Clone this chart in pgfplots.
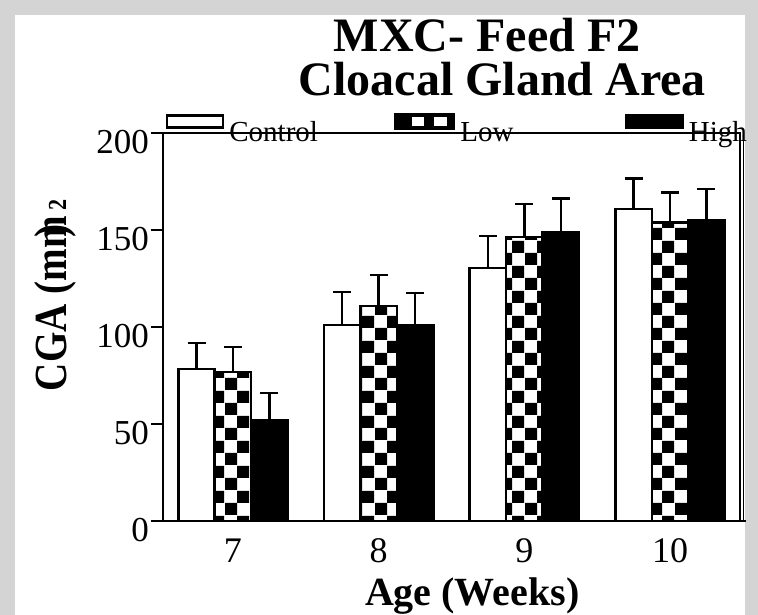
\documentclass[border=0pt]{standalone}
\usepackage{fontspec}
\setmainfont{Liberation Serif}
\newfontfamily\condserif{Liberation Serif}[FakeStretch=0.85]
\usepackage{pgfplots}
\pgfplotsset{compat=1.18}
\usepackage{pgfplotstable}
\usetikzlibrary{patterns}
\pgfdeclarepatternformonly{bigcheck}{\pgfpointorigin}{\pgfqpoint{25pt}{25pt}}{\pgfqpoint{25pt}{25pt}}{%
  \pgfpathrectangle{\pgfpointorigin}{\pgfqpoint{12.5pt}{12.5pt}}%
  \pgfpathrectangle{\pgfqpoint{12.5pt}{12.5pt}}{\pgfqpoint{12.5pt}{12.5pt}}%
  \pgfusepath{fill}}

\pgfplotstableread{
x c ce l le h he
0 78.4 13.4 76.8 12.9 52.0 14.0
1 101.0 17.0 110.8 16.0 100.7 16.8
2 130.4 16.5 146.5 16.8 149.0 17.2
3 160.8 15.8 153.8 15.6 155.0 16.2
}\cgadata

\begin{document}
\begin{tikzpicture}
\useasboundingbox (0,0) rectangle (758pt,615pt);
\fill[black!17] (0,0) rectangle (758pt,615pt);
\fill[white] (15pt,0) rectangle (745pt,600pt);
\begin{axis}[
  name=ax,
  at={(163pt,94pt)}, anchor=south west,
  scale only axis, width=577pt, height=388pt,
  ybar=0pt, bar width=0.25,
  xmin=-0.48, xmax=3.48, ymin=0, ymax=200,
  xtick={0,1,2,3}, xticklabels={7,8,9,10},
  ytick={0,50,100,150,200},
  axis line style={line width=2.5pt},
  tick align=outside,
  x tick style={draw=none},
  y tick style={line width=2.5pt, black},
  major tick length=12pt,
  xtick pos=bottom, ytick pos=left,
  /pgf/number format/assume math mode=true,
  yticklabel style={font=\fontsize{35}{35}\selectfont, inner sep=2pt, yshift=-9pt},
  xticklabel style={font=\fontsize{36}{36}\selectfont, yshift=-2pt},
  title={MXC- Feed F2\hspace*{30pt}\\Cloacal Gland Area},
  title style={font=\fontsize{48}{44}\selectfont\bfseries, align=center,
    at={(axis description cs:0.588,1.080)}, anchor=south, inner sep=0pt},
  xlabel={Age (Weeks)},
  xlabel style={font=\fontsize{40}{40}\selectfont\bfseries,
    at={(axis description cs:0.536,-0.2165)}, anchor=base},
  ylabel={CGA (mm\kern-0.45em)\kern0.3em{\fontsize{26}{26}\selectfont 2}},
  ylabel style={font=\condserif\bfseries\fontsize{46}{46}\selectfont,
    at={(axis description cs:-0.187,0.582)}, anchor=center},
  legend columns=3,
  legend style={draw=none, fill=none, inner sep=0pt, outer sep=0pt,
    at={(axis description cs:0.005,1.052)}, anchor=north west,
    font=\fontsize{29}{29}\selectfont,
    /tikz/every odd column/.append style={column sep=3pt},
    /tikz/every even column/.append style={column sep=43pt}},
  error bars/y dir=plus, error bars/y explicit,
  error bars/error bar style={line width=2.5pt, black},
  error bars/error mark options={rotate=90, line width=2.5pt, black, mark size=9pt},
]
\addplot[draw=black, fill=white, line width=2.5pt,
  legend image code/.code={\draw[draw=black, fill=white, line width=2.5pt] (0pt,5pt) rectangle (56pt,17pt);}]
  table[x=x, y=c, y error plus=ce] {\cgadata};
\addlegendentry{\makebox[120pt][l]{Control}}
\addplot[draw=black, pattern=bigcheck, pattern color=black, line width=2.5pt,
  legend image code/.code={\fill[black] (-1.25pt,3.75pt) rectangle (57.25pt,18.25pt);
    \fill[white] (16pt,8pt) rectangle (26pt,14pt);
    \fill[white] (38pt,8pt) rectangle (49pt,14pt);}]
  table[x=x, y=l, y error plus=le] {\cgadata};
\addlegendentry{\makebox[120pt][l]{Low}}
\addplot[draw=black, fill=black, line width=2.5pt,
  legend image code/.code={\draw[draw=black, fill=black, line width=2.5pt] (0pt,5pt) rectangle (56pt,17pt);}]
  table[x=x, y=h, y error plus=he] {\cgadata};
\addlegendentry{\makebox[120pt][l]{High}}
\end{axis}
\draw[line width=1.5pt] ([xshift=3.5pt]ax.south east) -- ([xshift=3.5pt]ax.north east);
\draw[line width=2.5pt] (ax.south east) -- ++(6pt,0);
\end{tikzpicture}
\end{document}
